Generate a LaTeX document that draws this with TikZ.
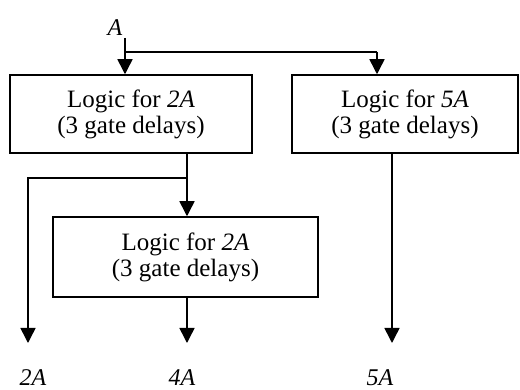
\documentclass[tikz,border=0pt]{standalone}
\usepackage{fontspec}
\setmainfont{Liberation Serif}
\usetikzlibrary{arrows.meta}
\begin{document}
\begin{tikzpicture}[x=1pt,y=-1pt,
  wire/.style={line width=1.5pt},
  arr/.style={wire,-{Triangle[length=15pt,width=15pt]}},
  logic/.style={draw,line width=1.5pt,align=center,inner sep=0pt,
    font=\fontsize{25}{26}\selectfont},
  sig/.style={inner sep=0pt,font=\fontsize{24}{24}\selectfont\itshape}]
\useasboundingbox (0,0) rectangle (520,390);

% the three logic blocks
\node[logic, minimum width=242pt, minimum height=78pt] (l2a) at (131,114)
  {Logic for \textit{2A}\\(3 gate delays)};
\node[logic, minimum width=226pt, minimum height=78pt] (l5a) at (405,114)
  {Logic for \textit{5A}\\(3 gate delays)};
\node[logic, minimum width=265pt, minimum height=80pt] (l4a) at (185.5,257)
  {Logic for \textit{2A}\\(3 gate delays)};

% input and outputs
\node[sig, anchor=base] (ain) at (115,36) {A};
\node[sig, anchor=base] (t2) at (33,385) {2A};
\node[sig, anchor=base] (t4) at (182,385) {4A};
\node[sig, anchor=base] (t5) at (380,385) {5A};

% junctions and free ends
\coordinate (a0) at (125,38);
\coordinate (split) at (125,52);
\coordinate (r) at (377,52);
\coordinate (tap) at (187,178);
\coordinate (o2) at (28,343);
\coordinate (o4) at (187,343);
\coordinate (o5) at (392,343);

% input fan-out
\draw[arr] (a0) -- (a0 |- l2a.north);
\draw[wire] (split) -- (r);
\draw[arr] (r) -- (r |- l5a.north);

% doubling chain
\draw[arr] (tap |- l2a.south) -- (tap |- l4a.north);
\draw[arr] (tap) -| (o2);
\draw[arr] (o4 |- l4a.south) -- (o4);

% times-five path
\draw[arr] (o5 |- l5a.south) -- (o5);
\end{tikzpicture}
\end{document}
